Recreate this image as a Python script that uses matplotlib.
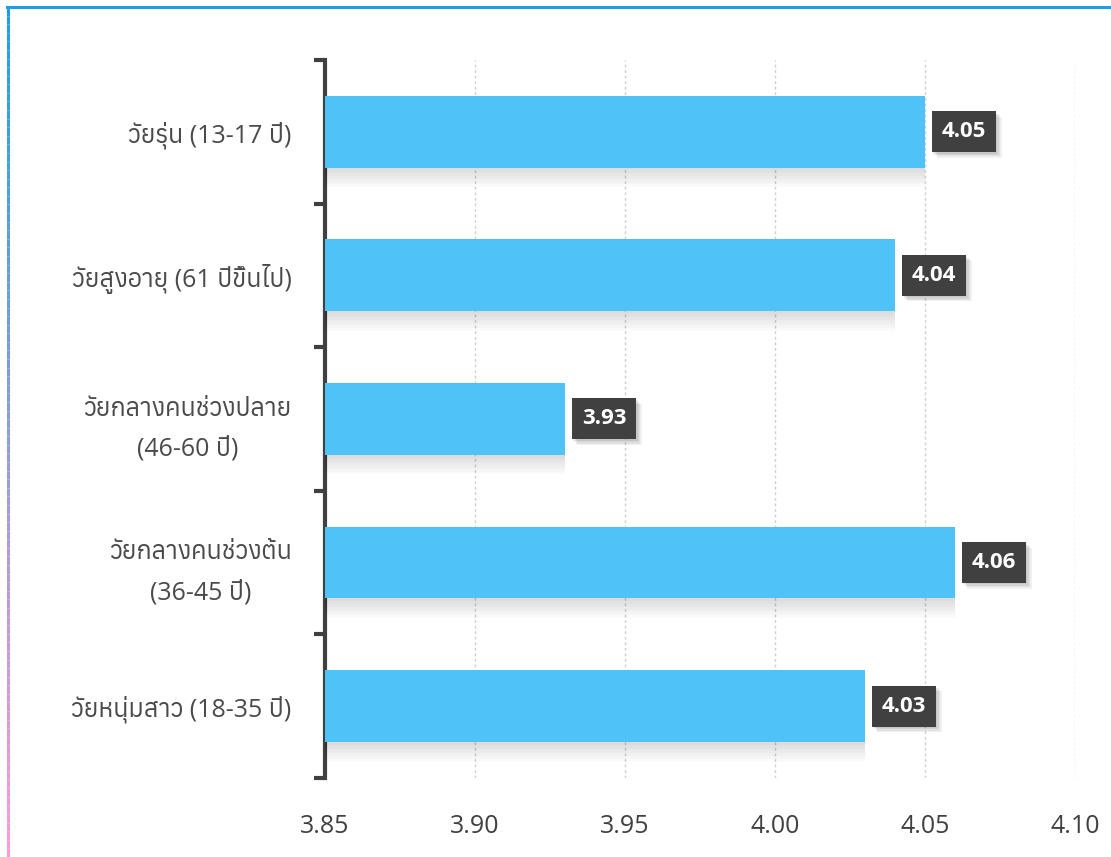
import numpy as np
import matplotlib
matplotlib.use("Agg")
import matplotlib.pyplot as plt
import matplotlib.patheffects as pe
from matplotlib import font_manager
from matplotlib.lines import Line2D
from matplotlib.collections import LineCollection
from fontTools.ttLib import TTFont

# data (bottom to top)
categories = ["วัยหนุ่มสาว (18-35 ปี)",
              "วัยกลางคนช่วงต้น\n(36-45 ปี)",
              "วัยกลางคนช่วงปลาย\n(46-60 ปี)",
              "วัยสูงอายุ (61 ปีขึ้นไป)",
              "วัยรุ่น (13-17 ปี)"]
values = [4.03, 4.06, 3.93, 4.04, 4.05]
xticks = [3.85, 3.90, 3.95, 4.00, 4.05, 4.10]

# find an installed font that has Thai glyphs
thai_fonts = []
for f in font_manager.fontManager.ttflist:
    try:
        tt = TTFont(f.fname, fontNumber=0, lazy=True)
        cmap = tt.getBestCmap()
        if cmap and 0x0E27 in cmap and 0x0E31 in cmap:
            thai_fonts.append(f.name)
    except Exception:
        pass
thai_fonts = sorted(set(thai_fonts))
fam = ["Open Sans"] + thai_fonts[:1] + ["DejaVu Sans"]
plt.rcParams['font.family'] = fam

dark = "#404040"
bar_col = "#4FC3F7"

fig = plt.figure(figsize=(11.11, 8.57), dpi=100)
ax = fig.add_axes([325/1111, 1-778/857, 750/1111, (778-60)/857])

y = np.arange(len(categories))
bars = ax.barh(y, values, height=0.5, color=bar_col, left=0, zorder=3)
# soft shadow under the bars
shadow = [pe.SimplePatchShadow(offset=(0, -k), shadow_rgbFace="#000000", alpha=0.018) for k in range(2, 16, 2)]
for b in bars:
    b.set_path_effects(shadow + [pe.Normal()])

ax.set_xlim(3.85, 4.10)
ax.set_ylim(-0.5, len(categories) - 0.5)
ax.set_xticks(xticks)
ax.set_xticklabels([f"{t:.2f}" for t in xticks], fontsize=18, color=dark)
ax.tick_params(axis='x', length=0, pad=26)
ax.grid(axis='x', color="#cfcfcf", linestyle=(0, (2, 2)), linewidth=1, zorder=0)

ax.set_yticks(np.arange(-0.5, len(categories), 1.0))
ax.set_yticklabels([])
ax.set_yticks(y, minor=True)
ax.set_yticklabels(categories, minor=True, fontsize=18, color="#4a4a4a",
                   linespacing=1.75, multialignment='center')
ax.tick_params(axis='y', which='major', length=8, width=3, color=dark, direction='out')
ax.tick_params(axis='y', which='minor', length=0, pad=24)

for s in ['top', 'right', 'bottom']:
    ax.spines[s].set_visible(False)
ax.spines['left'].set_color(dark)
ax.spines['left'].set_linewidth(3)

for yi, v in zip(y, values):
    t = ax.annotate(f"{v:.2f}", xy=(v, yi), xytext=(12, 0), textcoords='offset points',
                    ha='left', va='center', fontsize=16, fontweight='bold', color='white',
                    bbox=dict(boxstyle='square,pad=0.45', fc=dark, ec='none'), zorder=5)
    t.get_bbox_patch().set_path_effects(
        [pe.SimplePatchShadow(offset=(k, -k), shadow_rgbFace="#000000", alpha=0.06) for k in (1, 2, 3, 4)]
        + [pe.Normal()])

# frame lines
fig.add_artist(Line2D([7/1111, 1], [1-7/857, 1-7/857], color="#1E9FE0", linewidth=2.2, transform=fig.transFigure))
ny = 100
ys = np.linspace(1-7/857, 0, ny)
segs = [[(7.5/1111, ys[i]), (7.5/1111, ys[i+1])] for i in range(ny-1)]
c1 = np.array([0x1E, 0xA0, 0xE0]) / 255
c2 = np.array([0xFF, 0x99, 0xD5]) / 255
cols = [c1 + (c2 - c1) * i / (ny-2) for i in range(ny-1)]
fig.add_artist(LineCollection(segs, colors=cols, linewidths=2.2, transform=fig.transFigure))

fig.savefig("out.png", dpi=100)
